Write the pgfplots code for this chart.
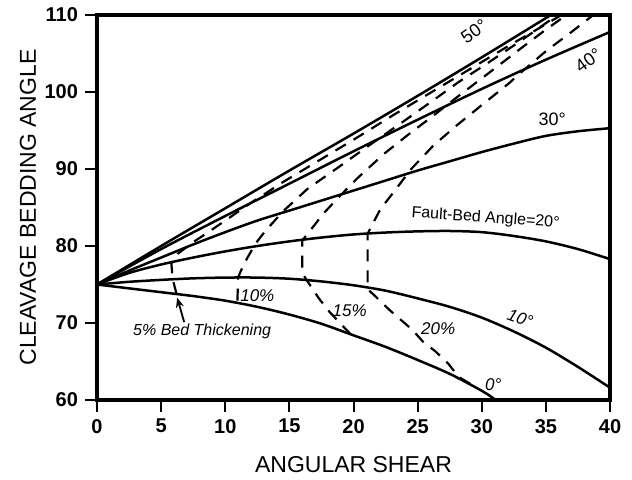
\documentclass[border=0pt]{standalone}
\usepackage{fontspec}
\setmainfont{Liberation Sans}
\usepackage{pgfplots}
\pgfplotsset{compat=1.18}
\usetikzlibrary{arrows.meta}
\begin{document}
\begin{tikzpicture}
\begin{axis}[name=ax, scale only axis, width=256.5pt, height=192.5pt,
  xmin=0, xmax=40, ymin=60, ymax=110,
  xtick={0,5,...,40}, ytick={60,70,...,110},
  tick pos=left, tick align=outside, major tick length=6pt,
  axis line style={line width=1.6pt},
  every tick/.style={black, line width=1pt},
  /pgf/number format/assume math mode=true,
  tick label style={font=\fontsize{10}{12}\selectfont\bfseries},
  xlabel={ANGULAR SHEAR}, ylabel={CLEAVAGE BEDDING ANGLE},
  label style={font=\fontsize{11.5}{14}\selectfont},
  x label style={at={(axis description cs:0.5,-0.169)}, anchor=center},
  y label style={at={(axis description cs:-0.1345,0.5)}, anchor=center},
  sol/.style={black, line width=1.25pt, smooth},
  dsh/.style={black, line width=1.1pt, dash pattern=on 6pt off 4.5pt},
]
% fault-bed angle curves
\addplot[sol] coordinates {(0,75) (2.5,74.5) (5,74.0) (7.5,73.5) (10,72.9) (12.5,72.1) (15,71.1) (17.5,69.9) (20,68.4) (22.5,66.9) (25,65.2) (27.5,63.4) (30,61.2) (31,60.1)};
\addplot[sol] coordinates {(0,75) (2.5,75.35) (5,75.6) (7.5,75.8) (10,75.9) (12.5,75.9) (15,75.75) (17.5,75.4) (20,74.9) (22.5,74.2) (25,73.2) (27.5,72.1) (30,70.7) (32.5,68.9) (35,66.8) (37.5,64.3) (40,61.6)};
\addplot[sol] coordinates {(0,75) (2.5,76.5) (5,77.6) (7.5,78.5) (10,79.3) (12.5,80.0) (15,80.6) (17.5,81.1) (20,81.5) (22.5,81.75) (25,81.9) (27.5,81.95) (30,81.8) (32.5,81.3) (35,80.6) (37.5,79.6) (40,78.3)};
\addplot[sol] coordinates {(0,75) (2.5,76.8) (5,78.5) (7.5,80.2) (10,81.8) (12.5,83.3) (15,84.6) (17.5,85.9) (20,87.2) (22.5,88.5) (25,89.8) (27.5,91.0) (30,92.2) (32.5,93.3) (35,94.3) (37.5,94.9) (40,95.3)};
\addplot[sol] coordinates {(0,75) (5,79.6) (10,83.9) (15,88.1) (20,92.3) (25,96.4) (30,100.4) (35,104.2) (40,107.8)};
\addplot[sol] coordinates {(0,75) (5,80.0) (10,84.9) (15,89.8) (20,94.6) (25,99.5) (30,104.5) (35,109.6) (35.4,110)};
% bed thickening curves
\addplot[dsh] coordinates {(6.2,73.8) (5.9,75.7) (5.8,77.7) (6.3,79.0) (7.5,80.5) (8.5,81.6) (10,83.3) (12,85.6) (14.5,88.3) (17,90.8) (20,93.8) (23,96.9) (26,99.9) (29,102.9) (32,105.9) (35,108.8) (36.2,110)};
\addplot[dsh] coordinates {(10.95,72.9) (11,75.9) (11.2,76.7) (11.7,78.4) (12.4,80.4) (13.1,81.9) (14.5,84.5) (16.4,87.4) (18.8,90.2) (21.5,93.4) (24,96.3) (26.2,98.9) (28.2,101.3) (30.5,103.8) (33,106.6) (35.9,110)};
\addplot[dsh] coordinates {(19.8,68.5) (19,69.9) (18.1,71.5) (17.3,73.2) (16.3,75.7) (16,76.5) (16,80.7) (16.9,82.6) (17.7,84.3) (19,86.6) (20.3,88.8) (22.4,92.0) (24.3,94.5) (26.2,96.9) (28.2,99.5) (30.5,102.4) (33,105.6) (35,108.1) (36.6,110)};
\addplot[dsh] coordinates {(29.1,62.1) (28.2,63.0) (27.4,64.7) (26.4,66.3) (25.4,67.6) (24.6,69.1) (23.7,70.4) (22.8,71.7) (21.75,73.4) (21.1,74.4) (21.1,81.6) (22.1,84.8) (22.9,86.5) (24.5,90.0) (26.2,93.0) (28,95.6) (30,98.3) (32.1,101.1) (33.1,102.6) (35,105.3) (37,107.8) (38.7,110)};
% annotations
\node[font=\fontsize{8}{9}\selectfont\itshape] at (axis cs:8.2,68.9) {5\% Bed Thickening};
\draw[line width=0.9pt, -{Stealth[length=5pt,width=4pt]}] (axis cs:6.8,70.1) -- (axis cs:6.25,73.3);
\node[font=\fontsize{8.5}{9}\selectfont\itshape] at (axis cs:12.5,73.6) {10\%};
\node[font=\fontsize{8.5}{9}\selectfont\itshape] at (axis cs:19.7,71.6) {15\%};
\node[font=\fontsize{8.5}{9}\selectfont\itshape] at (axis cs:26.6,69.3) {20\%};
\node[font=\fontsize{8.5}{9}\selectfont\itshape] at (axis cs:30.9,62.0) {0°};
\node[font=\fontsize{8.5}{9}\selectfont\itshape, rotate=-20] at (axis cs:33,70.6) {10°};
\node[font=\fontsize{8}{9}\selectfont, rotate=-4] at (axis cs:30.3,83.6) {Fault-Bed Angle=20°};
\node[font=\fontsize{9}{9}\selectfont] at (axis cs:35.5,96.4) {30°};
\node[font=\fontsize{9}{9}\selectfont, rotate=35] at (axis cs:38.3,104.1) {40°};
\node[font=\fontsize{9}{9}\selectfont, rotate=35] at (axis cs:29.4,107.9) {50°};
\end{axis}
\path ([shift={(-48.5pt,-39.5pt)}]ax.south west) rectangle ([shift={(11pt,7.5pt)}]ax.north east);
\end{tikzpicture}
\end{document}
